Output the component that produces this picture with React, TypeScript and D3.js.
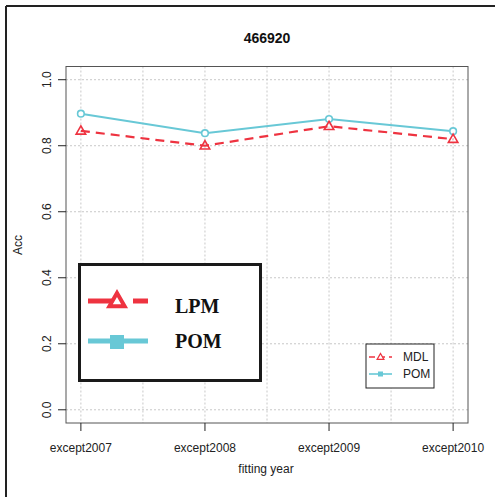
import React from 'react';
import * as d3 from 'd3';

const categories = ['except2007', 'except2008', 'except2009', 'except2010'];
const mdlValues = [0.845, 0.8, 0.859, 0.82];
const pomValues = [0.897, 0.838, 0.881, 0.844];
const yTicks = [0, 0.2, 0.4, 0.6, 0.8, 1.0];

const RED = '#ee3340';
const CYAN = '#68c8d6';

const App = () => {
  const width = 495;
  const height = 497;
  const plot = { left: 66, right: 468, top: 66.5, bottom: 423 };

  // R-style 4% padding around the data range
  const x = d3.scaleLinear().domain([-0.12, 3.12]).range([plot.left, plot.right]);
  const y = d3.scaleLinear().domain([-0.04, 1.04]).range([plot.bottom, plot.top]);

  const line = d3
    .line<number>()
    .x((_, i) => x(i))
    .y((d) => y(d));

  const gridX = d3.range(0, 3.01, 0.5);
  const tri = (cx: number, cy: number, r: number) =>
    `M${cx},${cy - r}L${cx + r * 0.95},${cy + r * 0.65}L${cx - r * 0.95},${cy + r * 0.65}Z`;

  const font = 'Liberation Sans, Arial, sans-serif';

  return (
    <svg
      width={width}
      height={height}
      style={{ position: 'absolute', left: 0, top: 0, background: '#fff' }}
      fontFamily={font}
    >
      {/* outer frame */}
      <line x1={6} y1={6} x2={width} y2={6} stroke="#222" strokeWidth={2} />
      <line x1={6} y1={6} x2={6} y2={height} stroke="#222" strokeWidth={2} />

      <text x={267} y={43} textAnchor="middle" fontSize={14} fontWeight="bold" fill="#111">
        466920
      </text>

      {/* grid */}
      {gridX.map((g) => (
        <line key={'gx' + g} x1={x(g)} x2={x(g)} y1={plot.top} y2={plot.bottom} stroke="#c8c8c8" strokeDasharray="2,2" />
      ))}
      {yTicks.map((t) => (
        <line key={'gy' + t} x1={plot.left} x2={plot.right} y1={y(t)} y2={y(t)} stroke="#c8c8c8" strokeDasharray="2,2" />
      ))}

      {/* lines */}
      <path d={line(pomValues) || ''} fill="none" stroke={CYAN} strokeWidth={2} />
      <path d={line(mdlValues) || ''} fill="none" stroke={RED} strokeWidth={2.2} strokeDasharray="9,6" />
      {pomValues.map((v, i) => (
        <circle key={'p' + i} cx={x(i)} cy={y(v)} r={3.3} fill="#fff" stroke={CYAN} strokeWidth={1.6} />
      ))}
      {mdlValues.map((v, i) => (
        <path key={'m' + i} d={tri(x(i), y(v), 5)} fill="none" stroke={RED} strokeWidth={1.6} />
      ))}

      {/* box */}
      <rect
        x={plot.left}
        y={plot.top}
        width={plot.right - plot.left}
        height={plot.bottom - plot.top}
        fill="none"
        stroke="#555"
        strokeWidth={1}
      />

      {/* y axis */}
      {yTicks.map((t) => (
        <g key={'yt' + t}>
          <line x1={plot.left - 8} x2={plot.left} y1={y(t)} y2={y(t)} stroke="#222" />
          <text
            transform={`translate(51,${y(t)}) rotate(-90)`}
            textAnchor="middle"
            fontSize={12}
            fill="#222"
          >
            {t.toFixed(1)}
          </text>
        </g>
      ))}
      <text transform="translate(22,245) rotate(-90)" textAnchor="middle" fontSize={12} fill="#222">
        Acc
      </text>

      {/* x axis */}
      {categories.map((c, i) => (
        <g key={c}>
          <line x1={x(i)} x2={x(i)} y1={plot.bottom} y2={plot.bottom + 8} stroke="#222" />
          <text x={x(i)} y={452} textAnchor="middle" fontSize={12} fill="#222">
            {c}
          </text>
        </g>
      ))}
      <text x={266} y={473} textAnchor="middle" fontSize={12} fill="#222">
        fitting year
      </text>

      {/* small legend */}
      <rect x={366} y={344} width={68} height={44} fill="#fff" stroke="#222" strokeWidth={1} />
      <line x1={369} x2={392} y1={357} y2={357} stroke={RED} strokeWidth={1.6} strokeDasharray="6,4" />
      <path d={tri(380.5, 357, 3.5)} fill="#fff" stroke={RED} strokeWidth={1.3} />
      <text x={403} y={361} fontSize={12} fill="#222">
        MDL
      </text>
      <line x1={369} x2={392} y1={374} y2={374} stroke={CYAN} strokeWidth={1.6} />
      <rect x={378} y={371.5} width={5} height={5} fill={CYAN} />
      <text x={403} y={378} fontSize={12} fill="#222">
        POM
      </text>

      {/* big legend */}
      <rect x={79.5} y={264.5} width={181} height={116} fill="#fff" stroke="#1a1a1a" strokeWidth={3} />
      <line x1={88} x2={113} y1={301} y2={301} stroke={RED} strokeWidth={5} />
      <line x1={133} x2={148} y1={301} y2={301} stroke={RED} strokeWidth={5} />
      <path d={tri(117, 301, 8)} fill="#fff" stroke={RED} strokeWidth={4} />
      <text x={175} y={313} fontSize={20} fontWeight="bold" fontFamily="Liberation Serif, Times New Roman, serif" fill="#111">
        LPM
      </text>
      <line x1={88} x2={148} y1={341} y2={341} stroke={CYAN} strokeWidth={5} />
      <rect x={110} y={335} width={14} height={14} fill={CYAN} />
      <text x={175} y={348} fontSize={20} fontWeight="bold" fontFamily="Liberation Serif, Times New Roman, serif" fill="#111">
        POM
      </text>
    </svg>
  );
};

export default App;
